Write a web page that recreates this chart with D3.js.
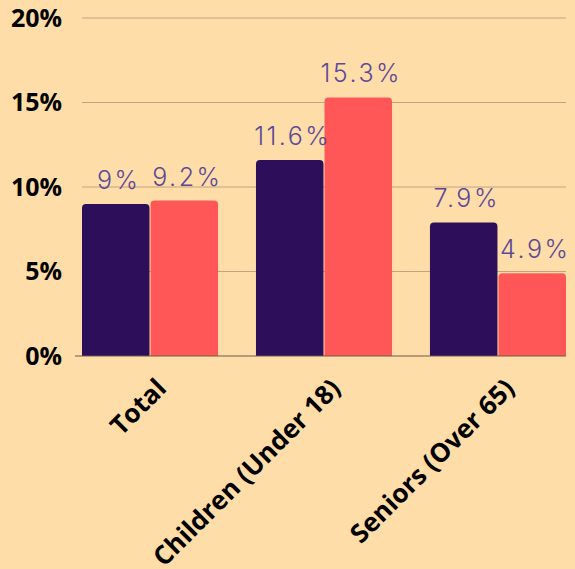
<!DOCTYPE html>
<html>
<head>
<meta charset="utf-8">
<script src="https://cdn.jsdelivr.net/npm/d3@7/dist/d3.min.js"></script>
<style>
  html, body { margin: 0; padding: 0; background: #FFDDA8; }
  svg { display: block; }
</style>
</head>
<body>
<svg id="chart" width="575" height="569"></svg>
<script>
// Poverty rate by age group, two series per group
const categories = ["Total", "Children (Under 18)", "Seniors (Over 65)"];
const seriesA = [9, 11.6, 7.9];
const seriesB = [9.2, 15.3, 4.9];
const yTicks = [0, 5, 10, 15, 20];
const seriesColors = ["#2D0E5A", "#FF5757"];

const width = 575, height = 569;
const margin = { top: 18, right: 9, bottom: 213, left: 82 };

const svg = d3.select("#chart");

const x0 = d3.scaleBand()
  .domain(categories)
  .range([margin.left, width - margin.right])
  .paddingInner(0.218)
  .paddingOuter(0);

const x1 = d3.scaleBand()
  .domain([0, 1])
  .range([0, x0.bandwidth()])
  .paddingInner(0.015);

const y = d3.scaleLinear()
  .domain([0, 20])
  .range([height - margin.bottom, margin.top]);

// Gridlines
svg.append("g")
  .selectAll("line")
  .data(yTicks.filter(t => t > 0))
  .join("line")
  .attr("x1", margin.left)
  .attr("x2", width - margin.right)
  .attr("y1", d => y(d))
  .attr("y2", d => y(d))
  .attr("stroke", "#C4A27B")
  .attr("stroke-width", 1);

// Y axis labels
const yAxis = d3.axisLeft(y)
  .tickValues(yTicks)
  .tickFormat(d => d + "%")
  .tickSize(0)
  .tickPadding(20);

svg.append("g")
  .attr("transform", `translate(${margin.left},0)`)
  .call(yAxis)
  .call(g => g.select(".domain").remove())
  .call(g => g.selectAll("text")
    .attr("fill", "#000")
    .attr("font-family", "'Open Sans', sans-serif")
    .attr("font-weight", 700)
    .attr("font-size", 25));

// Bars
const rows = categories.map((c, i) => ({ cat: c, vals: [seriesA[i], seriesB[i]] }));

function topRounded(x, yTop, w, yBase, r) {
  const h = yBase - yTop;
  r = Math.min(r, h, w / 2);
  return `M${x},${yBase}V${yTop + r}Q${x},${yTop} ${x + r},${yTop}` +
         `H${x + w - r}Q${x + w},${yTop} ${x + w},${yTop + r}V${yBase}Z`;
}

const groups = svg.append("g")
  .selectAll("g")
  .data(rows)
  .join("g")
  .attr("transform", d => `translate(${x0(d.cat)},0)`);

groups.selectAll("path")
  .data(d => d.vals.map((v, k) => ({ v, k })))
  .join("path")
  .attr("d", d => topRounded(x1(d.k), y(d.v), x1.bandwidth(), y(0), 4))
  .attr("fill", d => seriesColors[d.k]);

// Value labels
groups.selectAll("text")
  .data(d => d.vals.map((v, k) => ({ v, k })))
  .join("text")
  .attr("x", d => x1(d.k) + x1.bandwidth() / 2 + 3)
  .attr("y", d => y(d.v) - 15)
  .attr("text-anchor", "middle")
  .attr("fill", "#5B4A98")
  .attr("font-family", "Inter, sans-serif")
  .attr("font-weight", 300)
  .attr("font-size", 25)
  .attr("letter-spacing", 2.5)
  .text(d => d.v + "%");

// Baseline
svg.append("line")
  .attr("x1", margin.left - 7)
  .attr("x2", width - margin.right)
  .attr("y1", y(0))
  .attr("y2", y(0))
  .attr("stroke", "#6B5A4A")
  .attr("stroke-width", 1);

// Category labels, rotated
const xAxis = d3.axisBottom(x0).tickSize(0).tickPadding(0);
svg.append("g")
  .attr("transform", `translate(0,${y(0)})`)
  .call(xAxis)
  .call(g => g.select(".domain").remove())
  .call(g => g.selectAll("text")
    .attr("y", 0)
    .attr("dy", 0)
    .attr("transform", "translate(13,29) rotate(-45)")
    .attr("text-anchor", "end")
    .attr("dominant-baseline", "middle")
    .attr("fill", "#000")
    .attr("font-family", "'Open Sans', sans-serif")
    .attr("font-weight", 700)
    .attr("font-size", 26));
</script>
</body>
</html>
